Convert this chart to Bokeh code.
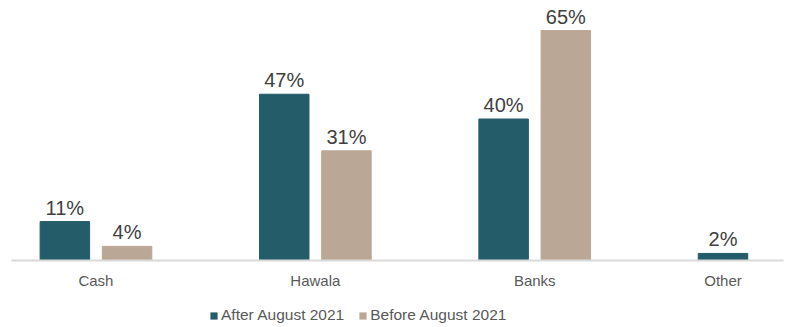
from bokeh.plotting import figure
from bokeh.layouts import column
from bokeh.models import ColumnDataSource, FixedTicker, Legend, LegendItem
from bokeh.core.properties import value
from bokeh.embed import file_html
from bokeh.resources import INLINE

categories = ["Cash", "Hawala", "Banks", "Other"]
after_vals = [11, 47, 40, 2]
before_vals = [4, 31, 65, None]
series_names = ["After August 2021", "Before August 2021"]

AFTER_COLOR = "#245C69"
BEFORE_COLOR = "#BBA795"
FONT = "Liberation Sans"
OFFSET = 0.1418
BAR_W = 0.2256

ax, ay, al = [], [], []
bx, by, bl = [], [], []
ticks = []
for i, (a, b) in enumerate(zip(after_vals, before_vals)):
    centers = []
    if a is not None:
        ax.append(i - OFFSET); ay.append(a); al.append(f"{a}%")
        centers.append(i - OFFSET)
    if b is not None:
        bx.append(i + OFFSET); by.append(b); bl.append(f"{b}%")
        centers.append(i + OFFSET)
    ticks.append(sum(centers) / len(centers))

src_a = ColumnDataSource(dict(x=ax, y=ay, lab=al))
src_b = ColumnDataSource(dict(x=bx, y=by, lab=bl))

p = figure(width=790, height=291, output_backend="svg", toolbar_location=None,
           x_range=(-0.385, 3.134), y_range=(0, 73.5), y_axis_location=None,
           min_border_left=11, min_border_right=7, min_border_top=0,
           min_border_bottom=30)
p.outline_line_color = None
p.grid.visible = False

ra = p.vbar(x="x", top="y", width=BAR_W, source=src_a, color=AFTER_COLOR)
rb = p.vbar(x="x", top="y", width=BAR_W, source=src_b, color=BEFORE_COLOR)

for src in (src_a, src_b):
    p.text(x="x", y="y", text="lab", source=src, text_align="center",
           text_baseline="bottom", y_offset=-3, text_font_size="20px",
           text_color="#404040", text_font=value(FONT))

xa = p.xaxis[0]
xa.ticker = FixedTicker(ticks=ticks)
xa.major_label_overrides = {t: c for t, c in zip(ticks, categories)}
xa.axis_line_color = "#D9D9D9"
xa.axis_line_width = 2
xa.major_tick_line_color = None
xa.minor_tick_line_color = None
xa.major_label_standoff = 5
xa.major_label_text_font = FONT
xa.major_label_text_font_size = "15px"
xa.major_label_text_color = "#595959"

# legend strip (swatches come from zero-height bars of the same fill)
lg = figure(width=790, height=36, output_backend="svg", toolbar_location=None,
            x_range=(0, 1), y_range=(0, 1), x_axis_location=None,
            y_axis_location=None, min_border=0)
lg.outline_line_color = None
lg.grid.visible = False
la = lg.vbar(x=[0.5], top=[0], bottom=[0], width=0.1, fill_color=AFTER_COLOR,
             line_color=None)
lb = lg.vbar(x=[0.5], top=[0], bottom=[0], width=0.1, fill_color=BEFORE_COLOR,
             line_color=None)
legend = Legend(items=[LegendItem(label=series_names[0], renderers=[la]),
                       LegendItem(label=series_names[1], renderers=[lb])],
                orientation="horizontal", location=(198, 3),
                glyph_width=9, glyph_height=9, label_standoff=3, spacing=14,
                padding=0, margin=0, border_line_color=None,
                background_fill_alpha=0,
                label_text_font=FONT, label_text_font_size="15.5px",
                label_text_color="#595959")
lg.add_layout(legend, "center")

open("out.html", "w").write(file_html(column(p, lg, spacing=0), INLINE))
